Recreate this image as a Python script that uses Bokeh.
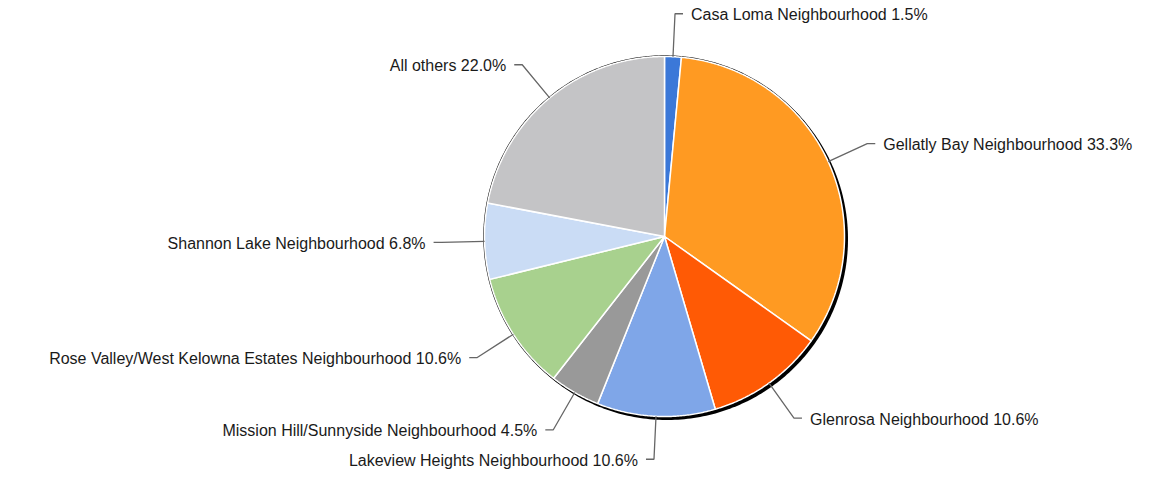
import numpy as np
from bokeh.plotting import figure
from bokeh.models import Range1d, ColumnDataSource
from bokeh.core.properties import value
from bokeh.embed import file_html
from bokeh.resources import INLINE

labels = ["Casa Loma Neighbourhood", "Gellatly Bay Neighbourhood", "Glenrosa Neighbourhood",
          "Lakeview Heights Neighbourhood", "Mission Hill/Sunnyside Neighbourhood",
          "Rose Valley/West Kelowna Estates Neighbourhood", "Shannon Lake Neighbourhood",
          "All others"]
shares = [1.5, 33.3, 10.6, 10.6, 4.5, 10.6, 6.8, 22.0]
colors = ["#3b78d8", "#ff9a22", "#ff5a05", "#7fa6e8", "#999999", "#a8d18e", "#cadcf5", "#c4c4c6"]

W, H = 1144, 469
cx, cy, R = 664, 242, 180
R_ELBOW = 223

p = figure(width=W, height=H, output_backend="svg", toolbar_location=None,
           x_range=Range1d(0, W), y_range=Range1d(H + 6, 6),
           min_border=0, outline_line_color=None)
p.axis.visible = False
p.grid.visible = False

def circle_pts(x0, y0, r, n=360):
    t = np.linspace(0, 2 * np.pi, n)
    return list(x0 + r * np.sin(t)), list(y0 - r * np.cos(t))

# outline and shadow
sx, sy = circle_pts(cx, cy, R + 1.2)
p.patch(sx, sy, fill_color="black", line_color=None)
sx, sy = circle_pts(cx + 2.5, cy + 2.5, R + 1)
p.patch(sx, sy, fill_color="black", line_color=None)

total = sum(shares)
xs, ys, mids = [], [], []
start = 0.0
for s in shares:
    a0 = start / total * 2 * np.pi
    a1 = (start + s) / total * 2 * np.pi
    t = np.linspace(a0, a1, max(3, int(s * 8)))
    xs.append([cx] + list(cx + R * np.sin(t)) + [cx])
    ys.append([cy] + list(cy - R * np.cos(t)) + [cy])
    mids.append((a0 + a1) / 2)
    start += s

p.patches(xs, ys, fill_color=colors, line_color="white", line_width=1.5)

# leader lines and labels
lx, ly, tx, ty, tt, ta = [], [], [], [], [], []
for lab, s, m in zip(labels, shares, mids):
    x0, y0 = cx + R * np.sin(m), cy - R * np.cos(m)
    x1, y1 = cx + R_ELBOW * np.sin(m), cy - R_ELBOW * np.cos(m)
    side = 1 if np.sin(m) >= 0 else -1
    x2 = x1 + side * 8
    lx.append([x0, x1, x2]); ly.append([y0, y1, y1])
    tx.append(x2 + side * 8); ty.append(y1 + 1)
    tt.append(f"{lab} {s:.1f}%")
    ta.append("left" if side > 0 else "right")

p.multi_line(lx, ly, line_color="#666666", line_width=1.3)
src = ColumnDataSource(dict(x=tx, y=ty, t=tt, a=ta))
p.text("x", "y", text="t", source=src, text_align="a", text_baseline="middle",
       text_font=value("Liberation Sans"), text_font_size="16px", text_color="#1a1a1a")

open("out.html", "w").write(file_html(p, INLINE))
